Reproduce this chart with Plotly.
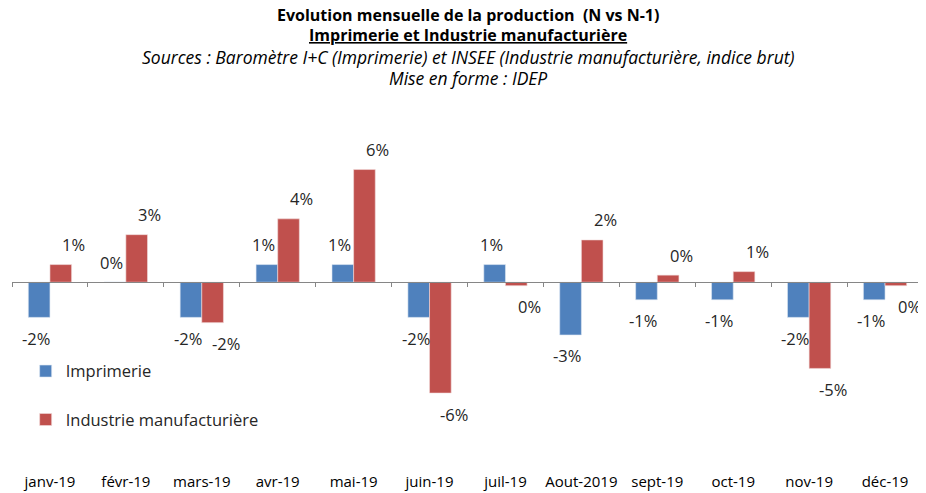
import plotly.graph_objects as go

mois = ["janv-19", "févr-19", "mars-19", "avr-19", "mai-19", "juin-19",
        "juil-19", "Aout-2019", "sept-19", "oct-19", "nov-19", "déc-19"]
imprimerie = [-0.02, 0.0, -0.02, 0.01, 0.01, -0.02, 0.01, -0.03, -0.01, -0.01, -0.02, -0.01]
industrie = [0.010, 0.027, -0.023, 0.036, 0.064, -0.063, -0.002, 0.024, 0.004, 0.006, -0.049, -0.002]

bleu = "#4F81BD"
rouge = "#C0504D"
ymin, ymax = -0.1073, 0.0808
# la page ajoute une marge de 8 px autour de la figure
W, H, T, B = 918, 485, 132, 22
ph = H - T - B

fig = go.Figure()
fig.add_trace(go.Bar(x=mois, y=imprimerie, name="Imprimerie", marker_color=bleu,
                     marker_line=dict(color="#DCE6F2", width=0.6), legendgroup="a"))
fig.add_trace(go.Bar(x=mois, y=industrie, name="Industrie manufacturière", marker_color=rouge,
                     marker_line=dict(color="#F2DCDB", width=0.6), legendgroup="b"))

# étiquettes de données façon Excel
def pct(v):
    return f"{int(round(v * 100))}%"

annots = []
for serie, dx in ((imprimerie, -14), (industrie, 24)):
    for m, v in zip(mois, serie):
        annots.append(dict(x=m, y=v, xref="x", yref="y", text=pct(v), showarrow=False,
                           xshift=dx, yshift=20 if v >= 0 else -21,
                           font=dict(family="Open Sans", size=16.5, color="#262626")))

titre = [
    ("<b>Evolution mensuelle de la production  (N vs N-1)</b>", 7, 16, None),
    ("<b>Imprimerie et Industrie manufacturière</b>", 27, 16, "under"),
    ("<i>Sources : Baromètre I+C (Imprimerie) et INSEE (Industrie manufacturière, indice brut)</i>", 49, 17.5, None),
    ("<i>Mise en forme : IDEP</i>", 70, 17.5, None),
]
for txt, ypx, taille, deco in titre:
    f = dict(family="Open Sans", size=taille, color="#000000")
    if deco:
        f["lineposition"] = deco
    annots.append(dict(x=0.5, y=(H - B - ypx) / ph, xref="paper", yref="paper", yanchor="middle",
                       text=txt, showarrow=False, font=f))

# position de l'axe des catégories (ligne du zéro), en fraction de la zone de tracé
pos0 = (0 - ymin) / (ymax - ymin)

fig.update_layout(
    width=W, height=H,
    margin=dict(l=4, r=3, t=T, b=B, autoexpand=False),
    paper_bgcolor="white", plot_bgcolor="white",
    barmode="group", bargap=0.43, bargroupgap=0,
    showlegend=True,
    legend=dict(x=0.015, y=0.354, xanchor="left", yanchor="top", traceorder="grouped",
                tracegroupgap=24, font=dict(family="Open Sans", size=16.5, color="#262626"),
                bgcolor="rgba(0,0,0,0)"),
    annotations=annots,
    xaxis=dict(showline=False, ticks="", showgrid=False, automargin=False,
               tickfont=dict(family="Open Sans", size=15, color="#000000")),
    xaxis2=dict(overlaying="x", anchor="free", position=pos0, matches="x", automargin=False,
                showline=True, linecolor="#868686", linewidth=1,
                ticks="outside", ticklen=4, tickcolor="#868686", tickson="boundaries",
                showticklabels=False, showgrid=False, side="bottom"),
    yaxis=dict(range=[ymin, ymax], visible=False, showgrid=False, zeroline=False),
)
fig.add_trace(go.Scatter(x=mois, y=[0] * len(mois), xaxis="x2", mode="lines",
                         line=dict(width=0), showlegend=False, hoverinfo="skip"))

fig.write_html("out.html")
